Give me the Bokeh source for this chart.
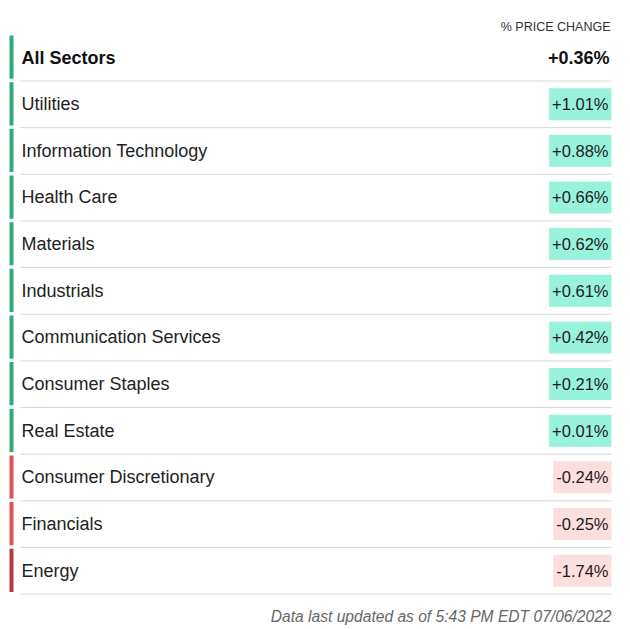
from bokeh.plotting import figure
from bokeh.models import ColumnDataSource, Range1d
from bokeh.core.properties import value
from bokeh.embed import file_html
from bokeh.resources import INLINE

# ---- data ----
sectors = ["All Sectors", "Utilities", "Information Technology", "Health Care",
           "Materials", "Industrials", "Communication Services", "Consumer Staples",
           "Real Estate", "Consumer Discretionary", "Financials", "Energy"]
changes = [0.36, 1.01, 0.88, 0.66, 0.62, 0.61, 0.42, 0.21, 0.01, -0.24, -0.25, -1.74]
header_label = "% PRICE CHANGE"
footer_label = "Data last updated as of 5:43 PM EDT 07/06/2022"

FONT = "Liberation Sans"
W, H = 625, 627
ROW = 46.65
Y0 = 57.0

def bar_color(v):
    if v >= 0:
        return "#2fab79"
    return "#b43a3d" if v <= -1 else "#de5353"

def box_color(v):
    return "#99f2dc" if v >= 0 else "#fcdede"

idx = list(range(len(sectors)))
labels = [f"{v:+.2f}%" for v in changes]

p = figure(width=W, height=H, output_backend="svg", toolbar_location=None,
           x_range=Range1d(0, W),
           y_range=Range1d((H - Y0) / ROW, -Y0 / ROW),
           min_border=0, outline_line_color=None)
p.axis.visible = False
p.grid.visible = False
p.background_fill_color = "white"
p.border_fill_color = "white"

src = ColumnDataSource(dict(
    y=idx, name=sectors, val=labels,
    top=[i - 0.47 for i in idx], bottom=[i + 0.455 for i in idx],
    sep=[i + 0.504 for i in idx],
    bar=[bar_color(v) for v in changes],
))

# left colour bars
p.quad(left=9, right=13, top="top", bottom="bottom", fill_color="bar",
       line_color=None, source=src)

# separators
p.segment(x0=20, x1=611, y0="sep", y1="sep", line_color="#d6d6d6",
          line_width=1, source=src)

# first row (bold, no box)
first = ColumnDataSource(dict(y=[0], name=[sectors[0]], val=[labels[0]]))
p.text(x=21, y="y", text="name", source=first, text_font=value(FONT),
       text_font_size="18px", text_font_style="bold", text_color="#111111",
       text_baseline="middle", text_align="left")
p.text(x=609, y="y", text="val", source=first, text_font=value(FONT),
       text_font_size="18px", text_font_style="bold", text_color="#111111",
       text_baseline="middle", text_align="right")

rest = ColumnDataSource(dict(y=idx[1:], name=sectors[1:], val=labels[1:],
                             box=[box_color(v) for v in changes[1:]]))
p.text(x=21, y="y", text="name", source=rest, text_font=value(FONT),
       text_font_size="18px", text_color="#222222",
       text_baseline="middle", text_align="left")
p.text(x=611, y="y", text="val", source=rest, text_font=value(FONT),
       text_font_size="16.5px", text_color="#1c1c1c",
       text_baseline="middle", text_align="right",
       background_fill_color="box", padding=(3, 7))

# header and footer
p.text(x=[610], y=[(26 - Y0) / ROW], text=[header_label], text_font=value(FONT),
       text_font_size="12.5px", text_color="#333333",
       text_baseline="middle", text_align="right")
p.text(x=[611], y=[(616 - Y0) / ROW], text=[footer_label], text_font=value(FONT),
       text_font_size="15.6px", text_font_style="italic", text_color="#666666",
       text_baseline="middle", text_align="right")

open("out.html", "w").write(file_html(p, INLINE))
